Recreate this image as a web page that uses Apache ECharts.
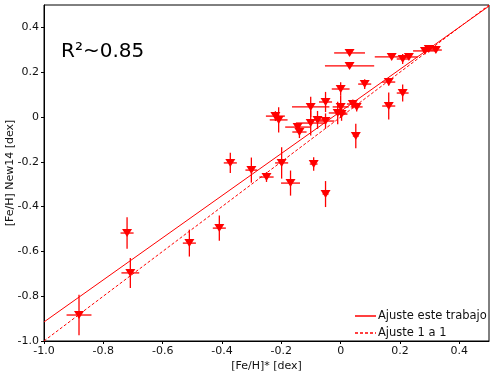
<!DOCTYPE html>
<html>
<head>
<meta charset="utf-8">
<script src="https://cdn.jsdelivr.net/npm/echarts@6/dist/echarts.min.js"></script>
<style>
  html, body { margin: 0; padding: 0; background: #fff; }
  #chart { width: 500px; height: 374px; }
</style>
</head>
<body>
<div id="chart"></div>
<script>
// valores
var feHStar = [-0.882, -0.720, -0.709, -0.510, -0.409, -0.372, -0.301, -0.250, -0.199, -0.169,
               -0.051, -0.091, -0.220, -0.209, -0.145, -0.139, -0.101, -0.101, -0.078, -0.051,
               -0.051, -0.010, 0.003, 0.000, 0.000, 0.041, 0.054, 0.051, 0.030, 0.030,
               0.081, 0.162, 0.209, 0.162, 0.172, 0.209, 0.230, 0.284, 0.297, 0.321];
var feHNew14 = [-0.884, -0.518, -0.696, -0.563, -0.496, -0.205, -0.237, -0.268, -0.205, -0.295,
                -0.344, -0.210, 0.004, -0.013, -0.045, -0.067, -0.027, 0.045, -0.013, -0.018,
                0.067, 0.018, 0.013, 0.045, 0.125, 0.058, 0.045, -0.085, 0.286, 0.228,
                0.147, 0.156, 0.107, 0.049, 0.268, 0.259, 0.268, 0.295, 0.304, 0.299];
var errX = [0.042, 0.022, 0.030, 0.022, 0.022, 0.022, 0.020, 0.024, 0.022, 0.032,
            0.010, 0.013, 0.032, 0.030, 0.042, 0.024, 0.050, 0.063, 0.020, 0.030,
            0.022, 0.030, 0.020, 0.027, 0.030, 0.020, 0.020, 0.010, 0.052, 0.083,
            0.022, 0.022, 0.020, 0.022, 0.057, 0.020, 0.030, 0.040, 0.020, 0.020];
var errY = [0.090, 0.070, 0.067, 0.060, 0.056, 0.045, 0.056, 0.022, 0.070, 0.056,
            0.058, 0.030, 0.022, 0.056, 0.018, 0.027, 0.056, 0.045, 0.040, 0.034,
            0.045, 0.050, 0.030, 0.050, 0.030, 0.020, 0.020, 0.055, 0.010, 0.010,
            0.022, 0.015, 0.038, 0.060, 0.010, 0.022, 0.010, 0.010, 0.010, 0.010];

var fitLine = [[-1.0, -0.915], [0.5, 0.495]];
var oneToOne = [[-1.0, -1.0], [0.5, 0.5]];
var tickLabels = ['-1.0', '-0.8', '-0.6', '-0.4', '-0.2', '0', '0.2', '0.4'];
var legendNames = ['Ajuste este trabajo', 'Ajuste 1 a 1'];

var chart = echarts.init(document.getElementById('chart'));

var points = [];
var errData = [];
for (var i = 0; i < feHStar.length; i++) {
    points.push([feHStar[i], feHNew14[i]]);
    errData.push([feHStar[i], feHNew14[i], errX[i], errY[i]]);
}

function fmt(v) {
    var s = Math.abs(v) < 1e-9 ? '0' : v.toFixed(1);
    return tickLabels.indexOf(s) >= 0 ? s : '';
}

var txt = { fontFamily: 'DejaVu Sans', fontSize: 11, color: '#111' };

// leyenda dibujada a mano (linea + texto)
function legendItem(name, y, dash) {
    return [
        { type: 'line', shape: { x1: 355, y1: y, x2: 376, y2: y },
          style: { stroke: '#f00', lineWidth: 1.5, lineDash: dash } },
        { type: 'text', x: 378, y: y,
          style: { text: name, fill: '#111', font: '11.5px "DejaVu Sans"', verticalAlign: 'middle' } }
    ];
}

var option = {
    backgroundColor: '#fff',
    animation: false,
    title: {
        text: 'R²~0.85',
        left: 56,
        top: 37,
        textStyle: { fontFamily: 'DejaVu Sans', fontSize: 20, fontWeight: 'normal', color: '#000' }
    },
    grid: {
        left: 44, right: 11, top: 5, bottom: 33,
        outerBoundsMode: 'none',
        containLabel: false,
        show: true, borderColor: '#000', borderWidth: 1
    },
    graphic: legendItem(legendNames[0], 316, null).concat(legendItem(legendNames[1], 333, [3, 2])),
    xAxis: {
        type: 'value',
        min: -1.0, max: 0.5, interval: 0.2,
        name: '[Fe/H]* [dex]',
        nameLocation: 'middle',
        nameGap: 20,
        nameMoveOverlap: false,
        nameTextStyle: txt,
        axisLine: { onZero: false, lineStyle: { color: '#000' } },
        axisTick: { inside: false, length: 3, lineStyle: { color: '#000' } },
        axisLabel: Object.assign({ formatter: fmt, margin: 5, showMaxLabel: false }, txt),
        splitLine: { show: false }
    },
    yAxis: {
        type: 'value',
        min: -1.0, max: 0.5, interval: 0.2,
        name: '[Fe/H] New14 [dex]',
        nameLocation: 'middle',
        nameGap: 28,
        nameMoveOverlap: false,
        nameTextStyle: txt,
        axisLine: { onZero: false, lineStyle: { color: '#000' } },
        axisTick: { inside: false, length: 3, lineStyle: { color: '#000' } },
        axisLabel: Object.assign({ formatter: fmt, margin: 5, showMaxLabel: false }, txt),
        splitLine: { show: false }
    },
    series: [
        {
            name: legendNames[0],
            type: 'line',
            data: fitLine,
            symbol: 'none',
            lineStyle: { color: '#f00', width: 1 },
            z: 3
        },
        {
            name: legendNames[1],
            type: 'line',
            data: oneToOne,
            symbol: 'none',
            lineStyle: { color: '#f00', width: 1, type: [3, 2] },
            z: 3
        },
        {
            name: 'errores',
            type: 'custom',
            data: errData,
            renderItem: function (params, api) {
                var x = api.value(0), y = api.value(1);
                var ex = api.value(2), ey = api.value(3);
                var l = api.coord([x - ex, y]);
                var r = api.coord([x + ex, y]);
                var t = api.coord([x, y + ey]);
                var b = api.coord([x, y - ey]);
                var st = { stroke: '#f00', lineWidth: 1.3 };
                return {
                    type: 'group',
                    children: [
                        { type: 'line', shape: { x1: l[0], y1: l[1], x2: r[0], y2: r[1] }, style: st },
                        { type: 'line', shape: { x1: t[0], y1: t[1], x2: b[0], y2: b[1] }, style: st }
                    ]
                };
            },
            z: 4
        },
        {
            name: 'datos',
            type: 'scatter',
            data: points,
            symbol: 'triangle',
            symbolRotate: 180,
            symbolSize: [10, 8],
            itemStyle: { color: '#f00', opacity: 1 },
            z: 5
        }
    ]
};
chart.setOption(option);
</script>
</body>
</html>
